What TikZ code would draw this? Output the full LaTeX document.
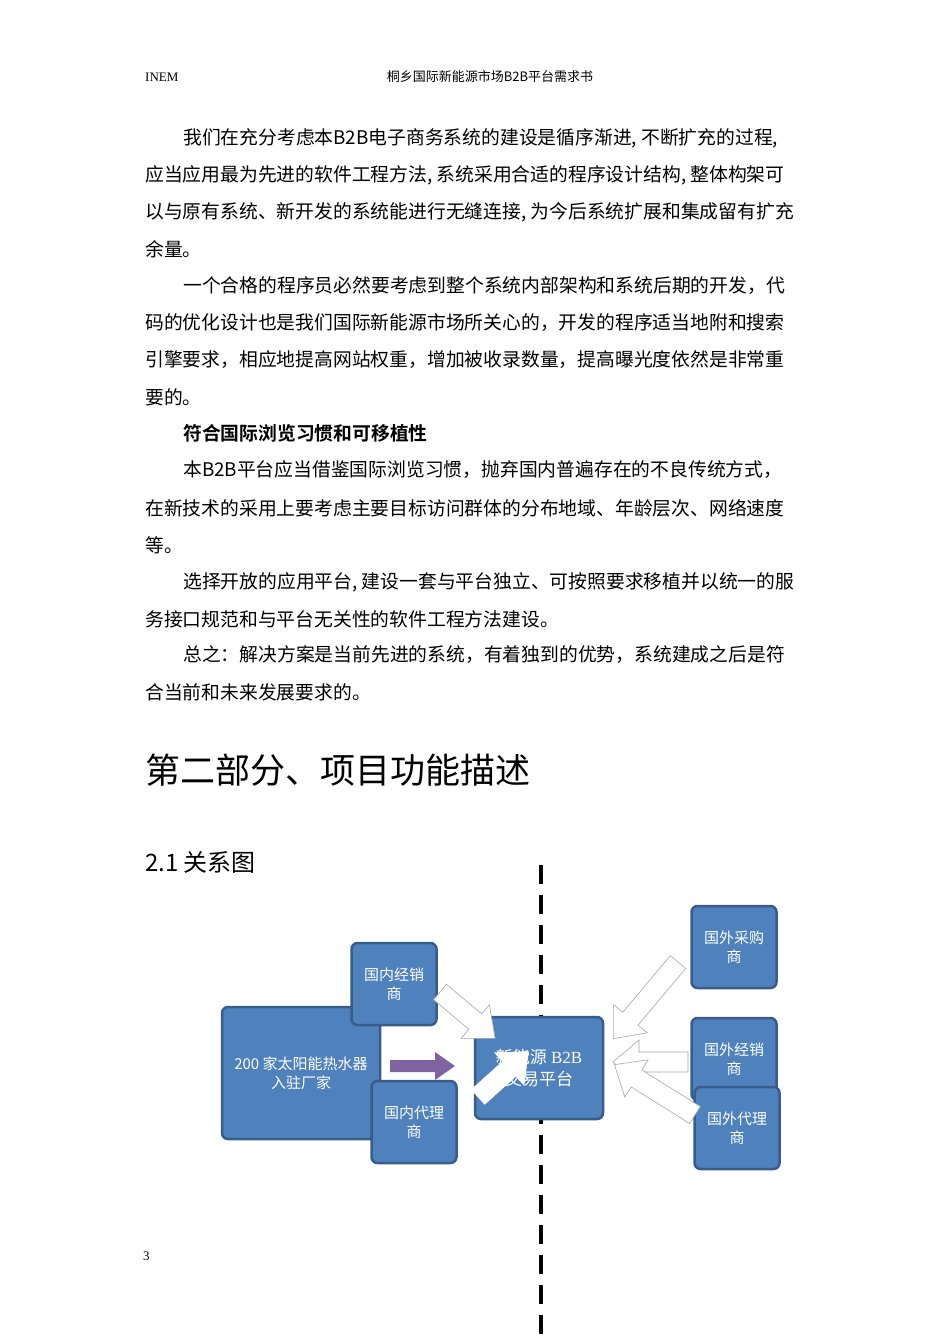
\documentclass[tikz,border=0pt]{standalone}
\usepackage{fontspec}
\setmainfont{Liberation Serif}
\newfontfamily\cjk{Noto Sans CJK SC}
\newfontfamily\cjkb{Noto Sans CJK SC Bold}
\definecolor{boxfill}{HTML}{4F81BD}
\definecolor{boxline}{HTML}{385D8A}
\definecolor{purp}{HTML}{8064A2}
\newcommand{\harrow}[6]{% x y angle length style name
  \begin{scope}[shift={(#1,#2)},rotate=#3]
  \draw[#5] (0,-10) -- (#4-26,-10) -- (#4-26,-22) -- (#4,0) -- (#4-26,22) -- (#4-26,10) -- (0,10) -- cycle;
  \end{scope}}
\begin{document}
\begin{tikzpicture}[x=1pt,y=-1pt,
  body/.style={anchor=west,inner sep=0pt,font=\cjk\fontsize{18.8}{20}\selectfont},
  bx/.style={draw=boxline,line width=2.5pt,fill=boxfill,rounded corners=6pt,text=white,align=center,font=\cjk\fontsize{15}{19}\selectfont,inner sep=2pt},
  hol/.style={draw=gray!70,fill=white,line width=0.6pt}]
\useasboundingbox (0,0) rectangle (950,1344);
\node[anchor=west,inner sep=0pt,font=\fontsize{13}{15}\selectfont] (hdl) at (145,77) {INEM};
\node[inner sep=0pt,font=\cjk\fontsize{13}{15}\selectfont] (hdr) at (490,77) {桐乡国际新能源市场B2B平台需求书};
\node[body] (l1) at (183,138) {我们在充分考虑本B2B电子商务系统的建设是循序渐进, 不断扩充的过程,};
\node[body] (l2) at (145,175) {应当应用最为先进的软件工程方法, 系统采用合适的程序设计结构, 整体构架可};
\node[body] (l3) at (145,212) {以与原有系统、新开发的系统能进行无缝连接, 为今后系统扩展和集成留有扩充};
\node[body] (l4) at (145,249) {余量。};
\node[body] (l5) at (183,286) {一个合格的程序员必然要考虑到整个系统内部架构和系统后期的开发，代};
\node[body] (l6) at (145,323) {码的优化设计也是我们国际新能源市场所关心的，开发的程序适当地附和搜索};
\node[body] (l7) at (145,360) {引擎要求，相应地提高网站权重，增加被收录数量，提高曝光度依然是非常重};
\node[body] (l8) at (145,397) {要的。};
\node[body,font=\cjkb\fontsize{18.8}{20}\selectfont] (l9) at (183,433) {符合国际浏览习惯和可移植性};
\node[body] (l10) at (183,470) {本B2B平台应当借鉴国际浏览习惯，抛弃国内普遍存在的不良传统方式，};
\node[body] (l11) at (145,508) {在新技术的采用上要考虑主要目标访问群体的分布地域、年龄层次、网络速度};
\node[body] (l12) at (145,545) {等。};
\node[body] (l13) at (183,582) {选择开放的应用平台, 建设一套与平台独立、可按照要求移植并以统一的服};
\node[body] (l14) at (145,619) {务接口规范和与平台无关性的软件工程方法建设。};
\node[body] (l15) at (183,655) {总之：解决方案是当前先进的系统，有着独到的优势，系统建成之后是符};
\node[body] (l16) at (145,692) {合当前和未来发展要求的。};
\node[anchor=west,inner sep=0pt,font=\cjk\fontsize{35}{40}\selectfont] (title) at (145,770) {第二部分、项目功能描述};
\node[anchor=west,inner sep=0pt,font=\cjk\fontsize{24}{28}\selectfont] (sub) at (145,862) {2.1 关系图};
\node[anchor=west,inner sep=0pt,font=\fontsize{13}{15}\selectfont] (pg) at (143,1256) {3};
% dashed divider
\coordinate (dtop) at (541,865);
\coordinate (dbot) at (541,1344);
\draw[line width=3.5pt,dash pattern=on 19pt off 11pt] (dtop) -- (dbot);
% boxes
\node[bx,minimum width=158pt,minimum height=132pt] (big) at (301,1073) {200 家太阳能热水器\\入驻厂家};
\node[bx,minimum width=85pt,minimum height=82pt] (dj) at (394,984) {国内经销\\商};
\node[bx,minimum width=85pt,minimum height=82pt] (dd) at (414,1122) {国内代理\\商};
\node[bx,minimum width=128pt,minimum height=102pt,font=\fontsize{17}{22}\selectfont] (ctr) at (539,1068) {{\cjk 新能源} B2B\\{\cjk 交易平台}};
\node[bx,minimum width=85pt,minimum height=82pt] (fc) at (734,947) {国外采购\\商};
\node[bx,minimum width=85pt,minimum height=82pt] (fj) at (734,1059) {国外经销\\商};
\node[bx,minimum width=85pt,minimum height=82pt] (fd) at (737,1128) {国外代理\\商};
% arrows
\fill[purp] (390,1060) -- (435,1060) -- (435,1052) -- (455,1066) -- (435,1080) -- (435,1072) -- (390,1072) -- cycle;
\harrow{440}{992}{-40}{72}{hol}{a1}
\harrow{678}{962}{-130}{100}{hol}{a2}
\harrow{688}{1062}{180}{75}{hol}{a3}
\harrow{695}{1115}{148}{95}{hol}{a4}
\harrow{478}{1097}{42}{68}{draw=white,fill=white}{a5}
\end{tikzpicture}
\end{document}
